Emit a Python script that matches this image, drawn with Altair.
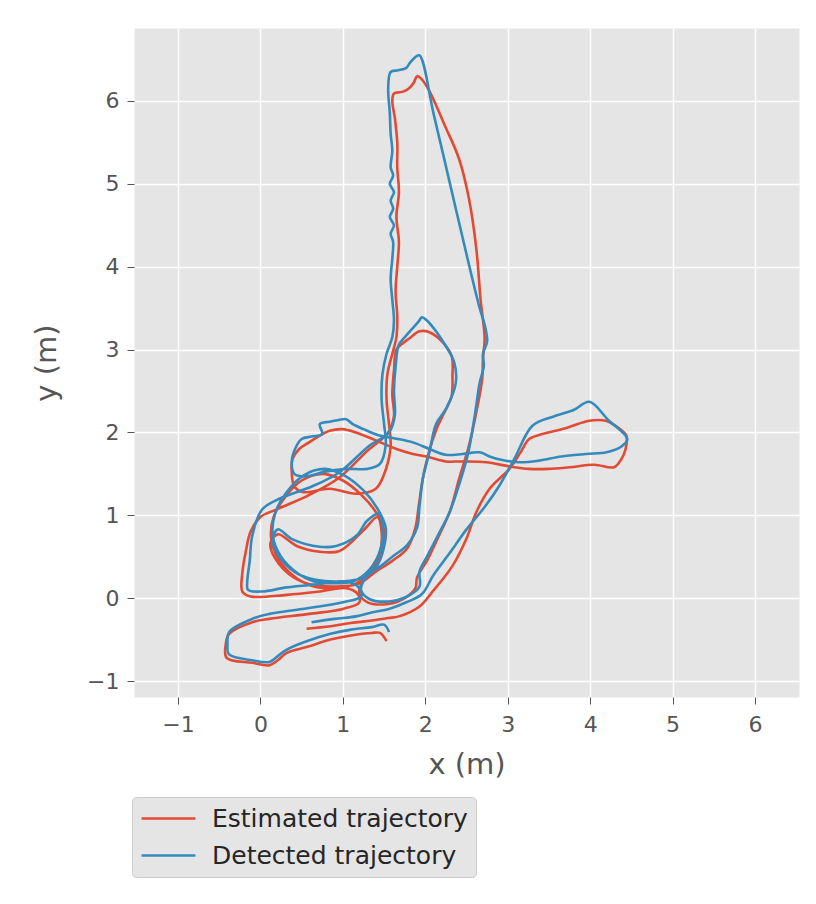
import altair as alt
import pandas as pd

x_ticks = [-1, 0, 1, 2, 3, 4, 5, 6]
y_ticks = [-1, 0, 1, 2, 3, 4, 5, 6]
series_names = ["Estimated trajectory", "Detected trajectory"]
series_colors = ["#E24A33", "#348ABD"]

estimated_xy = [
    (0.56, -0.37), (0.85, -0.34), (1.1, -0.3), (1.35, -0.27), (1.55, -0.24), (1.68, -0.22), (1.93, -0.1),
    (2.08, 0.07), (2.33, 0.39), (2.5, 0.72), (2.62, 1.04), (2.78, 1.32), (3.02, 1.56), (3.15, 1.75),
    (3.26, 1.92), (3.42, 1.98), (3.7, 2.05), (3.99, 2.14), (4.19, 2.14), (4.35, 2.05), (4.44, 1.96),
    (4.43, 1.8), (4.38, 1.68), (4.29, 1.58), (4.05, 1.61), (3.75, 1.58), (3.5, 1.56), (3.26, 1.56),
    (3.02, 1.59), (2.74, 1.64), (2.45, 1.65), (2.25, 1.65), (2.05, 1.7), (1.85, 1.74), (1.65, 1.8),
    (1.36, 1.92), (1.16, 2.0), (0.99, 2.04), (0.84, 2.02), (0.75, 1.98), (0.59, 1.88), (0.47, 1.8),
    (0.39, 1.68), (0.38, 1.52), (0.41, 1.35), (0.51, 1.28), (0.84, 1.32), (1.16, 1.26), (1.4, 1.32),
    (1.52, 1.55), (1.58, 1.85), (1.56, 2.1), (1.53, 2.4), (1.54, 2.7), (1.6, 2.95), (1.65, 3.15),
    (1.66, 3.4), (1.64, 3.7), (1.66, 4.0), (1.68, 4.3), (1.65, 4.6), (1.68, 4.9), (1.66, 5.2),
    (1.66, 5.5), (1.63, 5.8), (1.6, 6.0), (1.62, 6.09), (1.72, 6.11), (1.8, 6.15), (1.86, 6.22),
    (1.9, 6.3), (1.95, 6.27), (2.05, 6.12), (2.23, 5.72), (2.41, 5.3), (2.53, 4.82), (2.62, 4.21),
    (2.67, 3.61), (2.72, 3.13), (2.7, 2.9), (2.69, 2.64), (2.62, 2.25), (2.53, 1.84), (2.41, 1.44),
    (2.3, 1.05), (2.15, 0.72), (2.02, 0.45), (1.9, 0.25), (1.88, 0.12), (1.75, 0.0), (1.55, -0.07),
    (1.3, -0.05), (1.2, 0.06), (1.24, 0.2), (1.38, 0.36), (1.47, 0.58), (1.5, 0.82), (1.4, 1.04),
    (1.22, 1.25), (1.0, 1.42), (0.76, 1.5), (0.5, 1.42), (0.3, 1.22), (0.16, 0.98), (0.13, 0.72),
    (0.22, 0.47), (0.4, 0.27), (0.62, 0.15), (0.88, 0.12), (1.12, 0.16), (1.32, 0.3), (1.45, 0.55),
    (1.47, 0.8), (1.42, 0.98), (1.25, 0.82), (0.96, 0.57), (0.72, 0.56), (0.44, 0.63), (0.21, 0.77),
    (0.12, 0.66), (0.22, 0.42), (0.5, 0.2), (0.9, 0.14), (1.2, 0.18), (1.4, 0.32), (1.6, 0.45),
    (1.78, 0.6), (1.88, 0.85), (1.92, 1.11), (1.97, 1.44), (2.04, 1.75), (2.14, 2.05), (2.27, 2.32),
    (2.32, 2.44), (2.33, 2.68), (2.32, 2.92), (2.21, 3.09), (2.05, 3.21), (1.93, 3.22), (1.8, 3.13),
    (1.72, 3.07), (1.65, 3.0), (1.62, 2.75), (1.6, 2.45), (1.62, 2.2), (1.55, 2.0), (1.3, 1.78),
    (0.95, 1.45), (0.6, 1.25), (0.22, 1.08), (0.0, 0.98), (-0.12, 0.8), (-0.18, 0.55), (-0.22, 0.3),
    (-0.22, 0.08), (-0.12, 0.02), (0.32, 0.04), (0.72, 0.08), (1.04, 0.12), (1.18, 0.05), (1.2, -0.05),
    (1.0, -0.13), (0.59, -0.19), (0.11, -0.25), (-0.1, -0.29), (-0.38, -0.43), (-0.42, -0.55),
    (-0.41, -0.72), (-0.1, -0.78), (0.11, -0.81), (0.21, -0.75), (0.32, -0.66), (0.56, -0.59),
    (0.85, -0.5), (1.1, -0.45), (1.35, -0.42), (1.45, -0.42), (1.53, -0.52),
]

detected_xy = [
    (0.62, -0.29), (0.9, -0.25), (1.16, -0.22), (1.36, -0.17), (1.56, -0.13), (1.77, -0.05), (1.96, 0.05),
    (2.1, 0.28), (2.3, 0.55), (2.5, 0.83), (2.72, 1.1), (2.9, 1.36), (3.08, 1.68), (3.3, 2.08),
    (3.55, 2.19), (3.8, 2.27), (3.99, 2.37), (4.22, 2.15), (4.45, 1.92), (4.38, 1.83), (4.2, 1.76),
    (3.95, 1.74), (3.65, 1.71), (3.38, 1.66), (3.14, 1.64), (2.92, 1.67), (2.78, 1.71), (2.66, 1.76),
    (2.45, 1.74), (2.25, 1.73), (2.05, 1.8), (1.85, 1.88), (1.62, 1.93), (1.42, 1.97), (1.25, 2.04),
    (1.12, 2.1), (1.04, 2.16), (0.95, 2.15), (0.84, 2.13), (0.72, 2.1), (0.75, 1.98), (0.62, 1.95),
    (0.5, 1.92), (0.42, 1.8), (0.38, 1.65), (0.41, 1.5), (0.55, 1.47), (0.8, 1.53), (1.05, 1.56),
    (1.3, 1.56), (1.45, 1.62), (1.52, 1.85), (1.5, 2.1), (1.47, 2.4), (1.48, 2.7), (1.53, 2.95),
    (1.6, 3.15), (1.62, 3.35), (1.6, 3.6), (1.58, 3.85), (1.6, 4.1), (1.61, 4.3), (1.58, 4.4),
    (1.62, 4.5), (1.57, 4.6), (1.61, 4.7), (1.58, 4.8), (1.62, 4.9), (1.57, 5.0), (1.61, 5.1),
    (1.58, 5.2), (1.6, 5.4), (1.58, 5.6), (1.57, 5.85), (1.55, 6.15), (1.58, 6.35), (1.67, 6.37),
    (1.77, 6.4), (1.82, 6.47), (1.88, 6.53), (1.93, 6.55), (2.1, 5.85), (2.3, 5.0), (2.5, 4.15),
    (2.66, 3.5), (2.72, 3.3), (2.75, 3.1), (2.7, 2.95), (2.71, 2.8), (2.66, 2.6), (2.6, 2.2),
    (2.52, 1.75), (2.42, 1.4), (2.3, 1.05), (2.15, 0.75), (2.02, 0.5), (1.93, 0.32), (1.93, 0.14),
    (1.78, 0.02), (1.56, -0.04), (1.32, -0.01), (1.22, 0.1), (1.27, 0.24), (1.42, 0.4), (1.5, 0.62),
    (1.52, 0.85), (1.42, 1.08), (1.25, 1.3), (1.02, 1.48), (0.78, 1.56), (0.52, 1.48), (0.32, 1.28),
    (0.18, 1.03), (0.15, 0.75), (0.25, 0.5), (0.45, 0.3), (0.65, 0.2), (0.88, 0.18), (1.12, 0.2),
    (1.32, 0.34), (1.46, 0.6), (1.48, 0.85), (1.44, 1.02), (1.3, 0.94), (1.16, 0.75), (0.92, 0.63),
    (0.72, 0.62), (0.39, 0.71), (0.21, 0.83), (0.15, 0.7), (0.25, 0.47), (0.5, 0.27), (0.9, 0.2),
    (1.22, 0.24), (1.42, 0.36), (1.6, 0.5), (1.78, 0.64), (1.9, 0.85), (1.93, 1.11), (1.97, 1.44),
    (2.05, 1.76), (2.13, 2.1), (2.26, 2.3), (2.37, 2.6), (2.35, 2.85), (2.25, 3.04), (2.13, 3.22),
    (2.02, 3.35), (1.96, 3.39), (1.92, 3.34), (1.84, 3.25), (1.76, 3.16), (1.68, 3.06), (1.64, 2.8),
    (1.62, 2.5), (1.63, 2.2), (1.56, 2.0), (1.32, 1.84), (0.96, 1.52), (0.63, 1.35), (0.23, 1.2),
    (0.02, 1.07), (-0.1, 0.75), (-0.13, 0.45), (-0.16, 0.2), (-0.15, 0.1), (0.02, 0.08), (0.32, 0.13),
    (0.72, 0.17), (1.04, 0.2), (1.2, 0.12), (1.22, 0.02), (1.0, -0.05), (0.51, -0.13), (0.11, -0.19),
    (-0.1, -0.25), (-0.38, -0.41), (-0.4, -0.55), (-0.38, -0.68), (-0.1, -0.75), (0.11, -0.77),
    (0.21, -0.7), (0.32, -0.62), (0.56, -0.52), (0.85, -0.43), (1.1, -0.38), (1.35, -0.35),
    (1.5, -0.32), (1.56, -0.41),
]


def frame(points, name):
    return pd.DataFrame({
        "x": [p[0] for p in points],
        "y": [p[1] for p in points],
        "step": list(range(len(points))),
        "series": name,
    })


est_df = frame(estimated_xy, series_names[0])
det_df = frame(detected_xy, series_names[1])

x_enc = alt.X("x:Q", scale=alt.Scale(domain=[-1.534, 6.534], nice=False, zero=False),
              axis=alt.Axis(values=x_ticks, title="x (m)", format="d"))
y_enc = alt.Y("y:Q", scale=alt.Scale(domain=[-1.193, 6.881], nice=False, zero=False),
              axis=alt.Axis(values=y_ticks, title="y (m)", format="d"))
color_enc = alt.Color(
    "series:N",
    scale=alt.Scale(domain=series_names, range=series_colors),
    legend=alt.Legend(
        title=None, orient="none", legendX=-2, legendY=769, direction="vertical",
        symbolType="stroke", symbolSize=2900, symbolStrokeWidth=2.6,
        labelFontSize=25, labelFont="DejaVu Sans", labelColor="#262626", labelLimit=600,
        fillColor="#E5E5E5", strokeColor="#CCCCCC", padding=8, cornerRadius=4,
        clipHeight=27, rowPadding=10, labelOffset=15,
    ),
)

base_props = dict(x=x_enc, y=y_enc, color=color_enc, order="step:Q")

line_style = dict(strokeWidth=2.6, strokeJoin="round", interpolate="catmull-rom", clip=True)
red = alt.Chart(est_df).mark_line(**line_style).encode(**base_props)
blue = alt.Chart(det_df).mark_line(**line_style).encode(**base_props)

chart = (
    alt.layer(red, blue)
    .properties(width=665, height=669, padding={"left": 24, "top": 20, "right": 8, "bottom": 8})
    .configure_view(fill="#E5E5E5", stroke="transparent")
    .configure_axis(
        domain=False, grid=True, gridColor="#FFFFFF", gridWidth=1.5,
        tickColor="#555555", tickSize=7, tickWidth=1,
        labelColor="#555555", labelFont="DejaVu Sans", labelFontSize=22,
        titleColor="#555555", titleFont="DejaVu Sans", titleFontSize=29,
        titleFontWeight="normal",
    )
    .configure_axisX(labelPadding=10, titlePadding=15)
    .configure_axisY(labelPadding=8, titlePadding=25)
)

chart.save("out.html", embed_options={"renderer": "svg", "actions": False})
